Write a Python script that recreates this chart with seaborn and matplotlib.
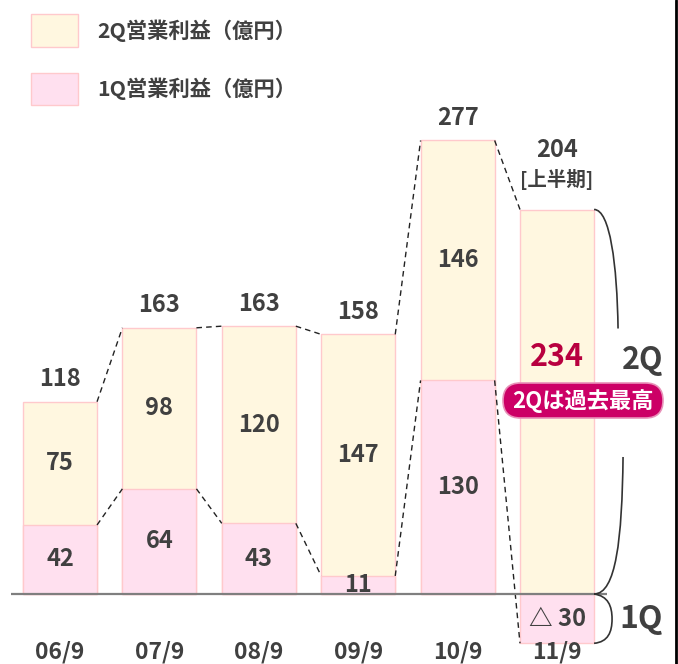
import numpy as np
import pandas as pd
import matplotlib
matplotlib.use("Agg")
import matplotlib.pyplot as plt
from matplotlib.patches import Rectangle, FancyBboxPatch, PathPatch
from matplotlib.path import Path
import seaborn as sns

# ---- data ----
categories = ["06/9", "07/9", "08/9", "09/9", "10/9", "11/9"]
q1_values = [42, 64, 43, 11, 130, -30]
q2_values = [75, 98, 120, 147, 146, 234]
total_labels = ["118", "163", "163", "158", "277", "204"]
q1_labels = ["42", "64", "43", "11", "130", "△ 30"]
q2_labels = ["75", "98", "120", "147", "146", "234"]
legend_labels = ["2Q営業利益（億円）", "1Q営業利益（億円）"]

sns.set_style("white")
plt.rcParams['font.family'] = ['Noto Sans CJK JP', 'DejaVu Sans']

W, H = 678, 664
fig = plt.figure(figsize=(W / 100, H / 100), dpi=100)
ax = fig.add_axes([0, 0, 1, 1])

q1 = np.array(q1_values, dtype=float)
q2 = np.array(q2_values, dtype=float)
tops = np.where(q1 > 0, q1 + q2, q2)
q2_mid = np.where(q1 > 0, q1 + q2 / 2, q2 / 2)
bw = 0.745

c2 = "#FFF7E0"
c1 = "#FFE0EF"
edge = "#FFC9CC"
txt = "#404040"

df_top = pd.DataFrame({"cat": categories, "v": tops})
df_q1 = pd.DataFrame({"cat": categories, "v": q1})
sns.barplot(data=df_top, x="cat", y="v", order=categories, width=bw, color=c2,
            saturation=1, edgecolor=edge, linewidth=1, ax=ax, zorder=2)
sns.barplot(data=df_q1, x="cat", y="v", order=categories, width=bw, color=c1,
            saturation=1, edgecolor=edge, linewidth=1, ax=ax, zorder=3)

ax.set_xlim(-0.6036, 6.217)
ax.set_ylim(-42.6, 361.5)
ax.axis("off")

xs = np.arange(len(categories))
# dashed connectors
for i in range(len(categories) - 1):
    for series in (tops, q1):
        ax.plot([xs[i] + bw / 2, xs[i + 1] - bw / 2], [series[i], series[i + 1]],
                color="#222222", lw=1.0, ls=(0, (4, 3)), zorder=4)

# zero line
ax.plot([-0.493, 5.503], [0, 0], color="#7f7f7f", lw=1.6, zorder=5, solid_capstyle="butt")

fs = 17
for i in range(len(categories)):
    ax.text(xs[i], q1[i] / 2, q1_labels[i], ha="center", va="center", fontsize=fs,
            fontweight="bold", color=txt, zorder=6)
    ax.text(xs[i], -35.6, categories[i], ha="center", va="center", fontsize=16.5,
            fontweight="bold", color=txt, zorder=6)
    if i < len(categories) - 1:
        ax.text(xs[i], q2_mid[i], q2_labels[i], ha="center", va="center", fontsize=fs,
                fontweight="bold", color=txt, zorder=6)
        ax.text(xs[i], tops[i] + 13.6, total_labels[i], ha="center", va="center",
                fontsize=fs, fontweight="bold", color=txt, zorder=6)

last = len(categories) - 1
ax.text(xs[last], tops[last] + 36, total_labels[last], ha="center", va="center",
        fontsize=fs, fontweight="bold", color=txt, zorder=6)
ax.text(xs[last], tops[last] + 18.5, "[上半期]", ha="center", va="center",
        fontsize=14, fontweight="bold", color=txt, zorder=6)
ax.text(xs[last], 144, q2_labels[last], ha="center", va="center", fontsize=22,
        fontweight="bold", color="#B8003F", zorder=6)

# braces
xr = xs[last] + bw / 2
u = 1 / 99.4  # one pixel in x data units
v = 1 / 1.643  # one pixel in y data units
verts_up = [(xr, q2[last]), (xr + 16 * u, q2[last]), (xr + 23 * u, q2[last] - 55 * v),
            (xr + 24 * u, q2[last] - 119 * v)]
verts_lo = [(xr + 29 * u, 137 * v), (xr + 28 * u, 55 * v), (xr + 22 * u, 0), (xr, 0)]
verts_q1 = [(xr, 0), (xr + 14 * u, -2 * v), (xr + 18 * u, -12 * v), (xr + 18 * u, -25 * v),
            (xr + 18 * u, -38 * v), (xr + 14 * u, -48 * v), (xr, q1[last])]
for vs in (verts_up, verts_lo):
    ax.add_patch(PathPatch(Path(vs, [Path.MOVETO, Path.CURVE4, Path.CURVE4, Path.CURVE4]),
                           fc="none", ec="#333333", lw=1.2, zorder=6))
ax.add_patch(PathPatch(Path(verts_q1, [Path.MOVETO] + [Path.CURVE4] * 6),
                       fc="none", ec="#333333", lw=1.2, zorder=6))
ax.text(xr + 49 * u, q2[last] - 150 * v, "2Q", ha="center", va="center", fontsize=22,
        fontweight="bold", color=txt, zorder=6)
ax.text(xr + 47 * u, -25 * v, "1Q", ha="center", va="center", fontsize=23,
        fontweight="bold", color=txt, zorder=6)

# overlay axes in pixel coordinates for badge and legend
pax = fig.add_axes([0, 0, 1, 1], facecolor="none")
pax.set_xlim(0, W)
pax.set_ylim(H, 0)
pax.axis("off")

badge = FancyBboxPatch((503, 383), 160, 35, boxstyle="round,pad=0,rounding_size=17.5",
                       fc="#CC0066", ec="#E890B8", lw=1.2, zorder=7)
pax.add_patch(badge)
pax.text(583, 401, "2Qは過去最高", ha="center", va="center", fontsize=16,
         fontweight="bold", color="white", zorder=8)

for (py0, py1, col, lab) in [(14, 47, c2, legend_labels[0]), (73, 105, c1, legend_labels[1])]:
    pax.add_patch(Rectangle((31, py0), 47, py1 - py0, fc=col, ec=edge, lw=1))
    pax.text(97, (py0 + py1) / 2, lab, ha="left", va="center", fontsize=15.3,
             fontweight="bold", color=txt)

# right border
pax.plot([676, 676], [0, H], color="black", lw=2)

fig.savefig("out.png", dpi=100)
